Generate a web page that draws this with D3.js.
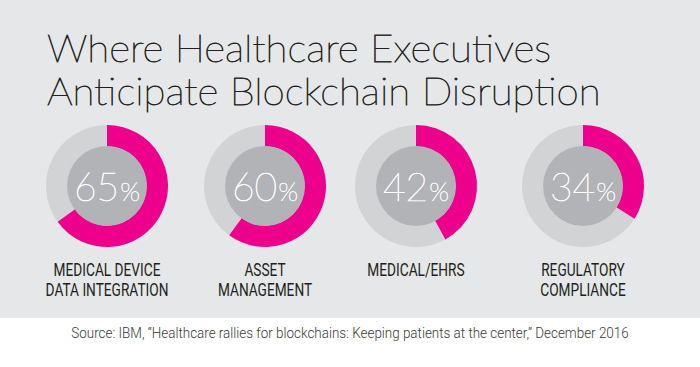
<!DOCTYPE html>
<html>
<head>
<meta charset="utf-8">
<script src="https://cdn.jsdelivr.net/npm/d3@7"></script>
<style>
  html, body { margin: 0; padding: 0; background: #ffffff; }
  svg { display: block; }
</style>
</head>
<body>
<script>
// ---- DATA ----
const titleLines = ["Where Healthcare Executives", "Anticipate Blockchain Disruption"];
const categories = ["Medical device data integration", "Asset management", "Medical/EHRs", "Regulatory compliance"];
const values = [65, 60, 42, 34];
const labelLines = [
  ["MEDICAL DEVICE", "DATA INTEGRATION"],
  ["ASSET", "MANAGEMENT"],
  ["MEDICAL/EHRS"],
  ["REGULATORY", "COMPLIANCE"]
];
const sourceText = "Source: IBM, \u201cHealthcare rallies for blockchains: Keeping patients at the center,\u201d December 2016";

// ---- LAYOUT ----
const W = 700, H = 367;
const panelH = 318;
const cy = 186, rOuter = 61, rInner = 40;
const colors = { bg: "#e6e7e8", pink: "#ec008c", track: "#d1d3d4", inner: "#b1b3b6", text: "#231f20" };

const svg = d3.select("body").append("svg").attr("width", W).attr("height", H);
svg.append("rect").attr("width", W).attr("height", H).attr("fill", "#ffffff");
svg.append("rect").attr("width", W).attr("height", panelH).attr("fill", colors.bg);

function fitWidth(textSel, target) {
  const w = textSel.node().getComputedTextLength();
  return target / w;
}

// Title
const title = svg.append("g")
  .attr("font-family", "Lato, 'Open Sans', sans-serif").attr("font-weight", 200)
  .attr("font-size", 37).attr("fill", colors.text)
  .attr("stroke", colors.text).attr("stroke-width", 0.75);
const t2 = title.append("text").text(titleLines[1]);
const tScale = fitWidth(t2, 554);
t2.attr("transform", `translate(47,105) scale(${tScale},1)`);
title.append("text").text(titleLines[0])
  .attr("transform", `translate(47,62) scale(${tScale},1)`);

// scales
const x = d3.scaleOrdinal().domain(categories).range([107, 265, 416, 583]);
const angle = d3.scaleLinear().domain([0, 100]).range([0, 2 * Math.PI]);
const arc = d3.arc().innerRadius(rInner - 0.5).outerRadius(rOuter);

const g = svg.selectAll("g.donut").data(categories).enter().append("g")
  .attr("class", "donut")
  .attr("transform", d => `translate(${x(d)},${cy})`);

g.append("path").attr("fill", colors.track)
  .attr("d", (d, i) => arc({ startAngle: angle(values[i]), endAngle: angle(100) }));
g.append("path").attr("fill", colors.pink)
  .attr("d", (d, i) => arc({ startAngle: angle(0), endAngle: angle(values[i]) }));
g.append("circle").attr("r", rInner).attr("fill", colors.inner);

const pct = g.append("text").attr("text-anchor", "middle").attr("y", 15)
  .attr("font-family", "Lato, 'Open Sans', sans-serif").attr("font-weight", 200)
  .attr("fill", "#ffffff").attr("stroke", "#ffffff").attr("stroke-width", 0.6);
pct.append("tspan").attr("font-size", 39).text((d, i) => values[i]);
pct.append("tspan").attr("font-size", 26).attr("dx", 1).text("%");

// Labels
const labelScale = 0.72;
g.each(function(d, i) {
  const lg = d3.select(this).append("g")
    .attr("transform", `translate(0,${276 - cy}) scale(${labelScale},1)`);
  labelLines[i].forEach((line, j) => {
    lg.append("text").text(line)
      .attr("text-anchor", "middle").attr("y", j * 20.5)
      .attr("font-family", "Roboto, sans-serif").attr("font-size", 19)
      .attr("fill", colors.text);
  });
});

// Source
const src = svg.append("text").text(sourceText)
  .attr("text-anchor", "middle")
  .attr("font-family", "Roboto, sans-serif").attr("font-weight", 300).attr("font-size", 14)
  .attr("fill", "#3a3a3a");
const sScale = fitWidth(src, 558);
src.attr("transform", `translate(350,338) scale(${sScale},1)`);
</script>
</body>
</html>
